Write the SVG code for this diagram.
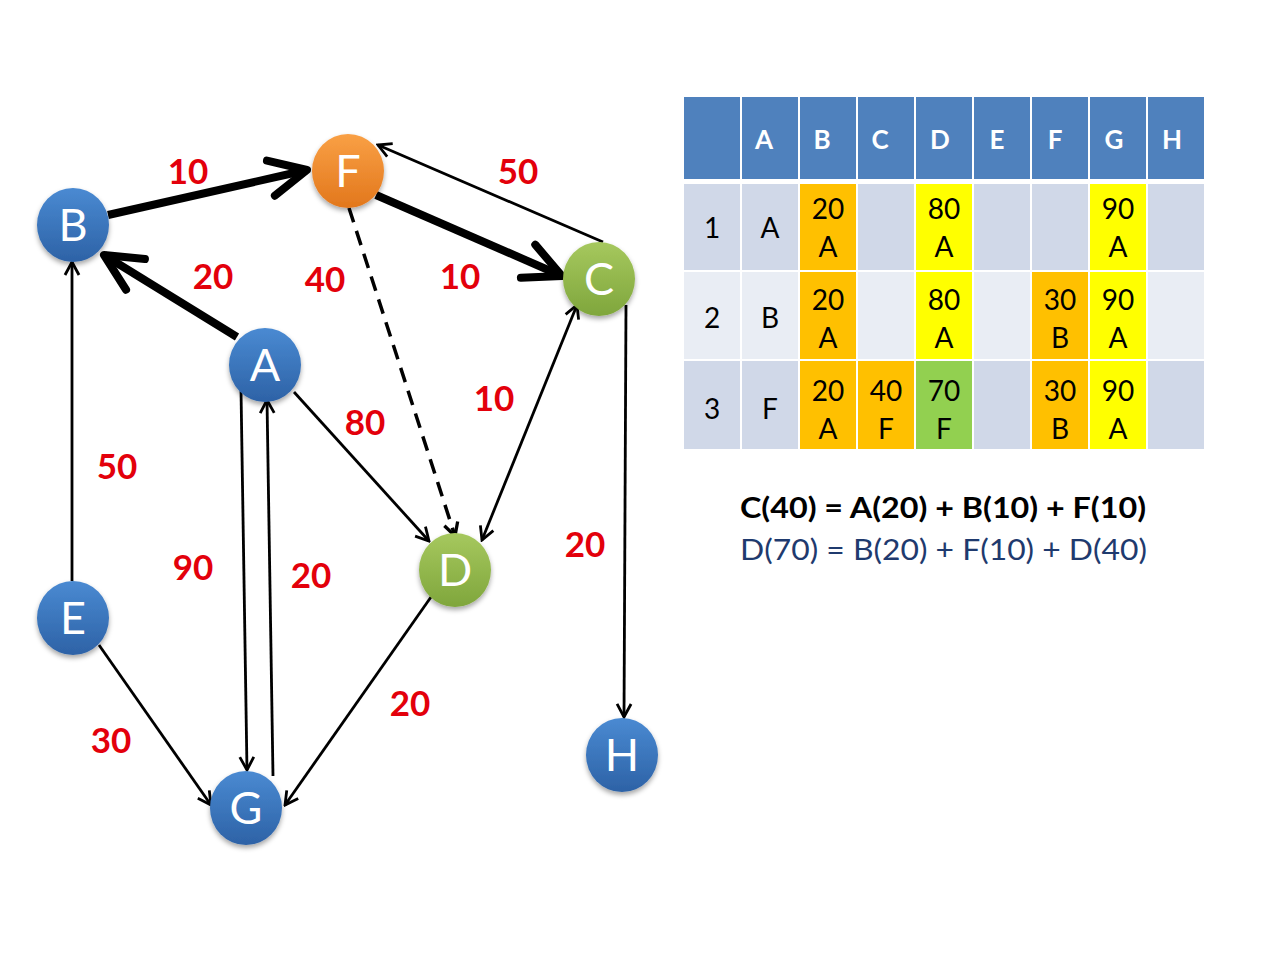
<svg xmlns="http://www.w3.org/2000/svg" width="1280" height="960" viewBox="0 0 1280 960">
<style>
.lbl{font-family:Lato,"Open Sans",sans-serif;font-weight:bold;font-size:35px;fill:#E3000B;text-anchor:middle}
.nt{font-family:Lato,"Open Sans",sans-serif;font-size:45px;fill:#fff;text-anchor:middle}
.e{fill:none;stroke:#000;stroke-width:2.8}
.dash{fill:none;stroke:#000;stroke-width:3.5;stroke-dasharray:15,9}
.thick{fill:none;stroke:#000;stroke-width:8}
.hd{font-family:Lato,"Open Sans",sans-serif;font-weight:bold;font-size:26px;fill:#fff;text-anchor:middle}
.tc{font-family:Lato,"Open Sans",sans-serif;font-size:28px;fill:#000;text-anchor:middle}
.h{fill:#4F81BD}.l1{fill:#D0D8E8}.l2{fill:#E9EDF4}.o{fill:#FFC000}.y{fill:#FFFF00}.g{fill:#92D050}
</style>
<defs>
<linearGradient id="gb" x1="0" y1="0" x2="0" y2="1"><stop offset="0" stop-color="#4A8AD2"/><stop offset="1" stop-color="#2D62A6"/></linearGradient>
<linearGradient id="go" x1="0" y1="0" x2="0" y2="1"><stop offset="0" stop-color="#F9A045"/><stop offset="1" stop-color="#E2771C"/></linearGradient>
<linearGradient id="gg" x1="0" y1="0" x2="0" y2="1"><stop offset="0" stop-color="#A6C85E"/><stop offset="1" stop-color="#7FA63C"/></linearGradient>
<filter id="sh" x="-30%" y="-30%" width="160%" height="170%"><feDropShadow dx="0" dy="3" stdDeviation="2.5" flood-color="#000" flood-opacity="0.35"/></filter>
<marker id="ar" markerUnits="userSpaceOnUse" viewBox="-15 -10 17 20" markerWidth="17" markerHeight="20" refX="0" refY="0" orient="auto-start-reverse">
<path d="M-13,-7 L0,0 L-13,7" fill="none" stroke="#000" stroke-width="2.8" stroke-linejoin="miter"/>
</marker>
<marker id="ad" markerUnits="userSpaceOnUse" viewBox="-15 -10 17 20" markerWidth="17" markerHeight="20" refX="0" refY="0" orient="auto">
<path d="M-13,-7 L0,0 L-13,7" fill="none" stroke="#000" stroke-width="3.3" stroke-linejoin="miter"/>
</marker>
<marker id="ak" markerUnits="userSpaceOnUse" viewBox="-46 -26 52 52" markerWidth="52" markerHeight="52" refX="0" refY="0" orient="auto">
<path d="M-37,-18 L0,0 L-37,18" fill="none" stroke="#000" stroke-width="8" stroke-linecap="round" stroke-linejoin="round"/>
</marker>
</defs>
<rect width="1280" height="960" fill="#fff"/>

<g id="connectors">
<path class="thick" d="M108,215 L307,170" marker-end="url(#ak)"/>
<path class="thick" d="M376,195 L562,276" marker-end="url(#ak)"/>
<path class="thick" d="M237,337 L104,255" marker-end="url(#ak)"/>
<path class="e" d="M603,242 L378,145" marker-end="url(#ar)"/>
<path class="dash" d="M349,208 L455,536" marker-end="url(#ad)"/>
<path class="e" d="M294,392 L429,541" marker-end="url(#ar)"/>
<path class="e" d="M577,305 L482,540" marker-start="url(#ar)" marker-end="url(#ar)"/>
<path class="e" d="M626,305 L624,717" marker-end="url(#ar)"/>
<path class="e" d="M72,581 L72,262" marker-end="url(#ar)"/>
<path class="e" d="M241,390 L247,770" marker-end="url(#ar)"/>
<path class="e" d="M273,776 L267,400" marker-end="url(#ar)"/>
<path class="e" d="M99,645 L211,805" marker-end="url(#ar)"/>
<path class="e" d="M431,597 L285,805" marker-end="url(#ar)"/>
</g>

<g id="edge-labels">
<text class="lbl" x="188" y="184">10</text>
<text class="lbl" x="518" y="184">50</text>
<text class="lbl" x="213" y="289">20</text>
<text class="lbl" x="325" y="292">40</text>
<text class="lbl" x="460" y="289">10</text>
<text class="lbl" x="494" y="411">10</text>
<text class="lbl" x="365" y="435">80</text>
<text class="lbl" x="117" y="479">50</text>
<text class="lbl" x="193" y="580">90</text>
<text class="lbl" x="311" y="588">20</text>
<text class="lbl" x="585" y="557">20</text>
<text class="lbl" x="410" y="716">20</text>
<text class="lbl" x="111" y="753">30</text>
</g>

<g id="node-B"><ellipse cx="73" cy="225" rx="36" ry="37" fill="url(#gb)" filter="url(#sh)"/><text class="nt" x="73" y="241">B</text></g>
<g id="node-F"><ellipse cx="348" cy="171" rx="36" ry="37" fill="url(#go)" filter="url(#sh)"/><text class="nt" x="348" y="187">F</text></g>
<g id="node-C"><ellipse cx="599" cy="279" rx="36" ry="37" fill="url(#gg)" filter="url(#sh)"/><text class="nt" x="599" y="295">C</text></g>
<g id="node-A"><ellipse cx="265" cy="365" rx="36" ry="37" fill="url(#gb)" filter="url(#sh)"/><text class="nt" x="265" y="381">A</text></g>
<g id="node-D"><ellipse cx="455" cy="570" rx="36" ry="37" fill="url(#gg)" filter="url(#sh)"/><text class="nt" x="455" y="586">D</text></g>
<g id="node-E"><ellipse cx="73" cy="618" rx="36" ry="37" fill="url(#gb)" filter="url(#sh)"/><text class="nt" x="73" y="634">E</text></g>
<g id="node-G"><ellipse cx="246" cy="808" rx="36" ry="37" fill="url(#gb)" filter="url(#sh)"/><text class="nt" x="246" y="824">G</text></g>
<g id="node-H"><ellipse cx="622" cy="755" rx="36" ry="37" fill="url(#gb)" filter="url(#sh)"/><text class="nt" x="622" y="771">H</text></g>

<g id="table">
<rect class="h" x="684" y="97" width="56" height="82"/>
<rect class="h" x="742" y="97" width="56" height="82"/>
<rect class="h" x="800" y="97" width="56" height="82"/>
<rect class="h" x="858" y="97" width="56" height="82"/>
<rect class="h" x="916" y="97" width="56" height="82"/>
<rect class="h" x="974" y="97" width="56" height="82"/>
<rect class="h" x="1032" y="97" width="56" height="82"/>
<rect class="h" x="1090" y="97" width="56" height="82"/>
<rect class="h" x="1148" y="97" width="56" height="82"/>
<text class="hd" x="764" y="149">A</text>
<text class="hd" x="822" y="149">B</text>
<text class="hd" x="880" y="149">C</text>
<text class="hd" x="940" y="149">D</text>
<text class="hd" x="997" y="149">E</text>
<text class="hd" x="1055" y="149">F</text>
<text class="hd" x="1114" y="149">G</text>
<text class="hd" x="1172" y="149">H</text>

<rect class="l1" x="684" y="184" width="56" height="86"/>
<rect class="l1" x="742" y="184" width="56" height="86"/>
<rect class="o" x="800" y="184" width="56" height="86"/>
<rect class="l1" x="858" y="184" width="56" height="86"/>
<rect class="y" x="916" y="184" width="56" height="86"/>
<rect class="l1" x="974" y="184" width="56" height="86"/>
<rect class="l1" x="1032" y="184" width="56" height="86"/>
<rect class="y" x="1090" y="184" width="56" height="86"/>
<rect class="l1" x="1148" y="184" width="56" height="86"/>

<rect class="l2" x="684" y="272" width="56" height="87"/>
<rect class="l2" x="742" y="272" width="56" height="87"/>
<rect class="o" x="800" y="272" width="56" height="87"/>
<rect class="l2" x="858" y="272" width="56" height="87"/>
<rect class="y" x="916" y="272" width="56" height="87"/>
<rect class="l2" x="974" y="272" width="56" height="87"/>
<rect class="o" x="1032" y="272" width="56" height="87"/>
<rect class="y" x="1090" y="272" width="56" height="87"/>
<rect class="l2" x="1148" y="272" width="56" height="87"/>

<rect class="l1" x="684" y="361" width="56" height="88"/>
<rect class="l1" x="742" y="361" width="56" height="88"/>
<rect class="o" x="800" y="361" width="56" height="88"/>
<rect class="o" x="858" y="361" width="56" height="88"/>
<rect class="g" x="916" y="361" width="56" height="88"/>
<rect class="l1" x="974" y="361" width="56" height="88"/>
<rect class="o" x="1032" y="361" width="56" height="88"/>
<rect class="y" x="1090" y="361" width="56" height="88"/>
<rect class="l1" x="1148" y="361" width="56" height="88"/>

<text class="tc" x="712" y="238">1</text>
<text class="tc" x="770" y="238">A</text>
<text class="tc" x="828" y="219">20</text><text class="tc" x="828" y="257">A</text>
<text class="tc" x="944" y="219">80</text><text class="tc" x="944" y="257">A</text>
<text class="tc" x="1118" y="219">90</text><text class="tc" x="1118" y="257">A</text>

<text class="tc" x="712" y="328">2</text>
<text class="tc" x="770" y="328">B</text>
<text class="tc" x="828" y="310">20</text><text class="tc" x="828" y="348">A</text>
<text class="tc" x="944" y="310">80</text><text class="tc" x="944" y="348">A</text>
<text class="tc" x="1060" y="310">30</text><text class="tc" x="1060" y="348">B</text>
<text class="tc" x="1118" y="310">90</text><text class="tc" x="1118" y="348">A</text>

<text class="tc" x="712" y="419">3</text>
<text class="tc" x="770" y="419">F</text>
<text class="tc" x="828" y="401">20</text><text class="tc" x="828" y="439">A</text>
<text class="tc" x="886" y="401">40</text><text class="tc" x="886" y="439">F</text>
<text class="tc" x="944" y="401">70</text><text class="tc" x="944" y="439">F</text>
<text class="tc" x="1060" y="401">30</text><text class="tc" x="1060" y="439">B</text>
<text class="tc" x="1118" y="401">90</text><text class="tc" x="1118" y="439">A</text>
</g>

<g id="equations">
<text x="740" y="518" font-family="Lato,'Open Sans',sans-serif" font-weight="bold" font-size="29" fill="#000" textLength="406" lengthAdjust="spacingAndGlyphs">C(40) = A(20) + B(10) + F(10)</text>
<text x="740" y="560" font-family="Lato,'Open Sans',sans-serif" font-size="29" fill="#1F3A6E" textLength="407" lengthAdjust="spacingAndGlyphs">D(70) = B(20) + F(10) + D(40)</text>
</g>
</svg>
